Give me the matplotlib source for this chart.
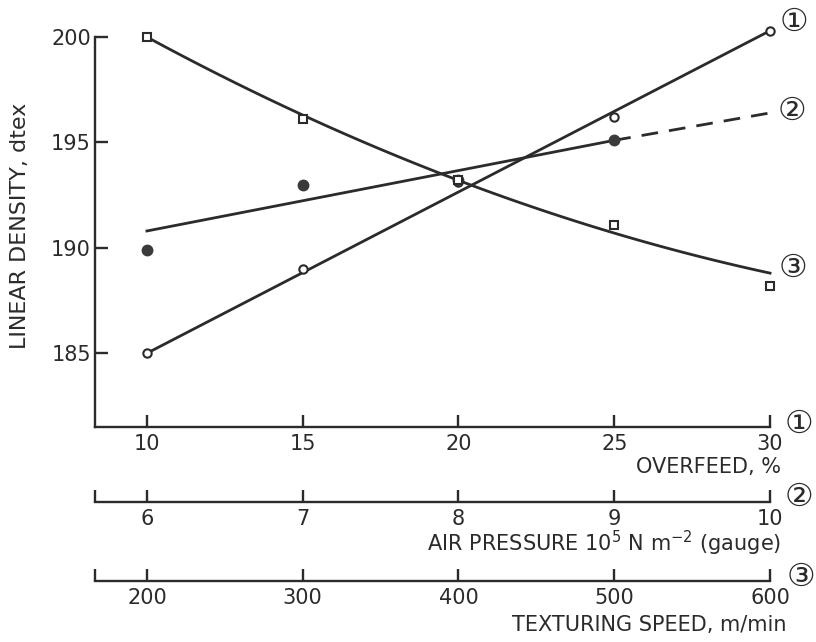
import numpy as np
import matplotlib
matplotlib.use('Agg')
import matplotlib.pyplot as plt

plt.rcParams['font.family'] = ['DejaVu Sans']

# x values for the three abscissae
overfeed = [10, 15, 20, 25, 30]
air_pressure = [6, 7, 8, 9, 10]
speed = [200, 300, 400, 500, 600]

# measured linear density (dtex)
dens_overfeed = [185.0, 189.0, 193.1, 196.2, 200.3]
dens_pressure = [189.9, 193.0, 193.2, 195.1]
dens_speed = [200.0, 196.1, 193.2, 191.1, 188.2]

# fitted lines as drawn
fit_overfeed_x = [10, 30]
fit_overfeed = [185.0, 200.3]
fit_pressure_x = [6, 9, 10]
fit_pressure = [190.8, 195.1, 196.4]
fit_speed = [200.0, 196.3, 193.2, 190.7, 188.8]

ink = '#2b2b2b'
W, H = 816, 642
fig = plt.figure(figsize=(W / 100, H / 100), dpi=100)

xlim1 = (8.333, 30.5)
xlim2 = (6 + (xlim1[0] - 10) / 5, 6 + (xlim1[1] - 10) / 5)
xlim3 = (200 + (xlim1[0] - 10) * 20, 200 + (xlim1[1] - 10) * 20)

left = 95 / W
width = 690.6 / W
ax = fig.add_axes([left, 1 - 427 / H, width, (427 - 24.4) / H])
ax.set_xlim(*xlim1)
ax.set_ylim(181.5, 200.6)
for s in ['top', 'right']:
    ax.spines[s].set_visible(False)
for s in ['left', 'bottom']:
    ax.spines[s].set_color(ink)
    ax.spines[s].set_linewidth(1.7)
ax.spines['left'].set_bounds(181.5, 200)
ax.spines['bottom'].set_bounds(xlim1[0], 30)
ax.set_xticks(overfeed)
ax.set_yticks([185, 190, 195, 200])
ax.tick_params(direction='in', length=9, width=1.7, color=ink,
               labelsize=15, labelcolor=ink)
ax.tick_params(axis='y', pad=3)
ax.tick_params(axis='x', pad=5)
ax.set_ylabel('LINEAR DENSITY, dtex', fontsize=16, color=ink)
ax.yaxis.set_label_coords(-0.094, 0.5)

# series 1: overfeed
ax.plot(fit_overfeed_x, fit_overfeed, color=ink, lw=2, clip_on=False)
ax.plot(overfeed, dens_overfeed, 'o', ms=6, mfc='white', mec=ink, mew=1.5,
        clip_on=False, zorder=3)

# series 2: air pressure
axp = ax.twiny()
axp.set_xlim(*xlim2)
axp.axis('off')
axp.plot(fit_pressure_x[:2], fit_pressure[:2], color=ink, lw=2, clip_on=False)
axp.plot(fit_pressure_x[1:], fit_pressure[1:], color=ink, lw=2,
         ls=(0, (6, 4)), clip_on=False)
axp.plot(air_pressure[:4], dens_pressure, 'o', ms=7.5, color='#3a3a3a',
         clip_on=False, zorder=3)

# series 3: texturing speed
axs = ax.twiny()
axs.set_xlim(*xlim3)
axs.axis('off')
sx = np.linspace(200, 600, 100)
axs.plot(sx, np.polyval(np.polyfit(speed, fit_speed, 2), sx), color=ink,
         lw=2, clip_on=False)
axs.plot(speed, dens_speed, 's', ms=6, mfc='white', mec=ink, mew=1.5,
         clip_on=False, zorder=3)


def scale_axis(ypix, lims, ticks):
    a = fig.add_axes([left, 1 - ypix / H, width, 0.0001])
    a.set_xlim(*lims)
    a.set_yticks([])
    for s in ['top', 'right', 'left']:
        a.spines[s].set_visible(False)
    a.spines['bottom'].set_color(ink)
    a.spines['bottom'].set_linewidth(1.7)
    a.spines['bottom'].set_bounds(lims[0], ticks[-1])
    a.set_xticks(ticks)
    a.set_xticks([lims[0]], minor=True)
    a.tick_params(which='both', direction='in', length=9, width=1.7,
                  color=ink, labelsize=15, labelcolor=ink, pad=5)
    a.patch.set_visible(False)
    return a


scale_axis(502, xlim2, air_pressure)
scale_axis(581, xlim3, speed)


def ftext(x, y, s, **kw):
    fig.text(x / W, 1 - y / H, s, color=ink, **kw)


ftext(781, 467, 'OVERFEED, %', fontsize=15, ha='right', va='center')
ftext(781, 543, r'AIR PRESSURE 10$^{5}$ N m$^{-2}$ (gauge)', fontsize=15,
      ha='right', va='center')
ftext(786, 625, 'TEXTURING SPEED, m/min', fontsize=15, ha='right', va='center')

circ = dict(fontsize=23, ha='center', va='center',
            family=['DejaVu Sans', 'Noto Sans CJK JP'])
ftext(794, 22, '\u2460', **circ)
ftext(792, 111, '\u2461', **circ)
ftext(793, 268, '\u2462', **circ)
ftext(799, 424, '\u2460', **circ)
ftext(799, 497, '\u2461', **circ)
ftext(801, 577, '\u2462', **circ)

fig.savefig('out.png', dpi=100, facecolor='white')
